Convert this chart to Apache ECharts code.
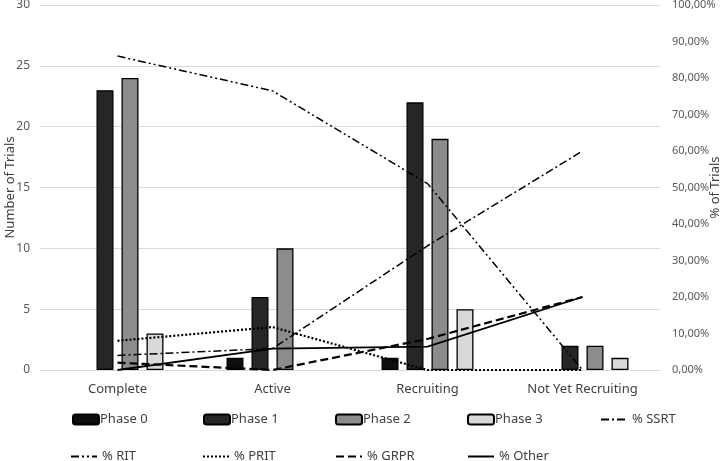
<!DOCTYPE html>
<html><head><meta charset="utf-8">
<script src="https://cdn.jsdelivr.net/npm/echarts@6/dist/echarts.min.js"></script>
<style>html,body{margin:0;padding:0;background:#fff}#c{width:725px;height:461px}</style>
</head><body><div id="c"></div>
<script>
var categories = ['Complete', 'Active', 'Recruiting', 'Not Yet Recruiting'];
var phase0 = [0, 1, 1, 0];
var phase1 = [23, 6, 22, 2];
var phase2 = [24, 10, 19, 2];
var phase3 = [3, 0, 5, 1];
var pctSSRT = [4, 5.88, 34.04, 60];
var pctRIT = [86, 76.47, 51.06, 0];
var pctPRIT = [8, 11.76, 0, 0];
var pctGRPR = [2, 0, 8.51, 20];
var pctOther = [0, 5.88, 6.38, 20];
var leftTicks = [0, 5, 10, 15, 20, 25, 30];

var FONT = 'Noto Sans';
var chart = echarts.init(document.getElementById('c'));
function bar(name, data, color) {
  return { name: name, type: 'bar',
    data: data.map(function (v) { return v === 0 ? '-' : v; }),
    barWidth: 17, barGap: '47%',
    itemStyle: { color: color, borderColor: '#000', borderWidth: 1.3 } };
}
function line(name, data, dash, width) {
  return { name: name, type: 'line', yAxisIndex: 1, data: data, symbol: 'none',
    lineStyle: { color: '#000', width: width, type: dash }, itemStyle: { color: '#000' } };
}
var legendPos = [
  ['Phase 0', 67, 408, 0], ['Phase 1', 198, 408, 0], ['Phase 2', 330, 408, 0], ['Phase 3', 462, 408, 0], ['% SSRT', 595, 408, 1],
  ['% RIT', 65, 445, 1], ['% PRIT', 197, 445, 1], ['% GRPR', 330, 445, 1], ['% Other', 462, 445, 1]
];
var legends = legendPos.map(function (p) {
  var l = { data: [p[0]], left: p[1], top: p[2], itemWidth: 26, itemHeight: 10, itemGap: 2,
    textStyle: { fontFamily: FONT, fontSize: 13, color: '#404040', padding: [0, 0, 0, -4] } };
  if (p[3]) { l.itemStyle = { color: 'rgba(0,0,0,0)', borderWidth: 0, opacity: 0 }; l.textStyle.padding = [0, 0, 0, 0]; }
  return l;
});
chart.setOption({
  animation: false,
  backgroundColor: '#fff',
  legend: legends,
  grid: { left: 40, right: 65, top: 5, bottom: 91, containLabel: false, outerBoundsMode: 'none' },
  xAxis: { type: 'category', data: categories,
    axisLine: { lineStyle: { color: '#d9d9d9', width: 1 } }, axisTick: { show: false },
    axisLabel: { fontFamily: FONT, fontSize: 13, color: '#404040', margin: 13 } },
  yAxis: [
    { type: 'value', min: leftTicks[0], max: leftTicks[leftTicks.length - 1], interval: 5,
      name: 'Number of Trials', nameLocation: 'middle', nameGap: 23, nameRotate: 90, nameMoveOverlap: false,
      nameTextStyle: { fontFamily: FONT, fontSize: 13, color: '#404040' },
      splitLine: { lineStyle: { color: '#d9d9d9' } },
      axisLabel: { fontFamily: FONT, fontSize: 12, color: '#595959', margin: 10 } },
    { type: 'value', min: 0, max: 100, interval: 10, position: 'right',
      name: '% of Trials', nameLocation: 'middle', nameGap: 49, nameRotate: 90, nameMoveOverlap: false,
      nameTextStyle: { fontFamily: FONT, fontSize: 13, color: '#404040' },
      splitLine: { show: false },
      axisLabel: { fontFamily: FONT, fontSize: 11, color: '#595959', margin: 12,
        formatter: function (v) { return v.toFixed(2).replace('.', ',') + '%'; } } }
  ],
  series: [
    bar('Phase 0', phase0, '#0d0d0d'),
    bar('Phase 1', phase1, '#262626'),
    bar('Phase 2', phase2, '#8c8c8c'),
    bar('Phase 3', phase3, '#d9d9d9'),
    line('% SSRT', pctSSRT, [8, 3, 2, 3], 1.5),
    line('% RIT', pctRIT, [8, 3, 2, 3, 2, 3], 1.5),
    line('% PRIT', pctPRIT, [2, 2], 2.2),
    line('% GRPR', pctGRPR, [8, 4], 2.2),
    line('% Other', pctOther, 'solid', 1.8)
  ]
});
</script></body></html>
